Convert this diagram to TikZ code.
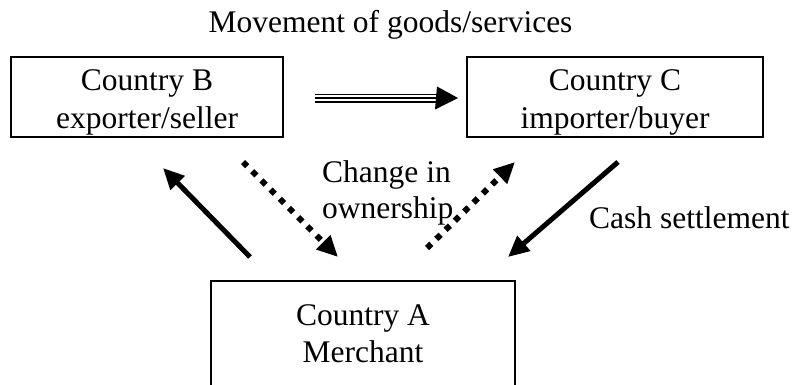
\documentclass[tikz,border=0pt]{standalone}
\usepackage{fontspec}
\setmainfont{Liberation Serif}
\usetikzlibrary{arrows.meta}
\begin{document}
\begin{tikzpicture}[x=1pt,y=-1pt,
  box/.style={draw,line width=1.2pt,inner sep=0pt},
  txt/.style={anchor=base,inner sep=0pt,font=\fontsize{31.5}{38}\selectfont},
  solidarrow/.style={line width=5pt,-{Triangle[length=21pt,width=19pt]}},
  dotarrow/.style={line width=6pt,dash pattern=on 6pt off 7pt,-{Triangle[length=21pt,width=19pt]}},
]
\useasboundingbox (0,0) rectangle (797,384);
\clip (0,0) rectangle (797,384);
% boxes
\node[box,minimum width=272pt,minimum height=80pt] (B) at (147,97) {};
\node[box,minimum width=296pt,minimum height=80pt] (C) at (615,97) {};
\node[box,minimum width=304pt,minimum height=120pt] (A) at (363,341) {};
% texts
\node[txt] (Bt1) at (147,90) {Country B};
\node[txt] (Bt2) at (147,128) {exporter/seller};
\node[txt] (Ct1) at (615,90) {Country C};
\node[txt] (Ct2) at (615,128) {importer/buyer};
\node[txt] (At1) at (363,325) {Country A};
\node[txt] (At2) at (363,362) {Merchant};
\node[txt] (mov) at (390.5,32) {Movement of goods/services};
\node[txt,anchor=base west,align=left] (chg1) at (322,182) {Change in};
\node[txt,anchor=base west] (chg2) at (322,218) {ownership};
\node[txt,anchor=base west] (cash) at (589,228) {Cash settlement};
% movement arrow (triple line)
\coordinate (g1) at (315,98);
\coordinate (g2) at (437,98);
\coordinate (g3) at (458,98);
\draw[line width=9pt] (g1) -- (g2);
\draw[white,line width=5.4pt] ([xshift=-1pt]g1) -- ([xshift=1pt]g2);
\draw[line width=2pt] (g1) -- (g2);
\fill (g2) ++(0,-11.5) -- (g3) -- ++(-23,11.5) -- cycle;
% diagonal arrows
\coordinate (s1) at (250,257); \coordinate (e1) at (163,168);
\coordinate (s2) at (243,162); \coordinate (e2) at (338,257);
\coordinate (s3) at (427,248); \coordinate (e3) at (515,162);
\coordinate (s4) at (618,162); \coordinate (e4) at (508,257);
\draw[solidarrow] (s1) -- (e1);
\draw[dotarrow] (s2) -- (e2);
\draw[dotarrow] (s3) -- (e3);
\draw[solidarrow] (s4) -- (e4);
\end{tikzpicture}
\end{document}
